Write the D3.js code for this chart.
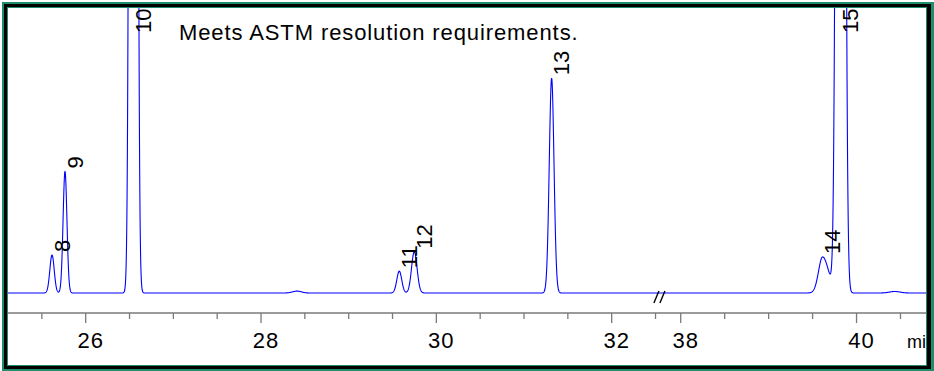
<!DOCTYPE html>
<html>
<head>
<meta charset="utf-8">
<script src="https://cdn.jsdelivr.net/npm/d3@7"></script>
<style>
  html, body { margin: 0; padding: 0; background: #fff; }
  svg { display: block; font-family: Arial, "Liberation Sans", sans-serif; }
</style>
</head>
<body>
<svg id="chart" width="934" height="371"></svg>
<script>
// ---------------- DATA ----------------
const peakLabels   = ["8", "9", "10", "11", "12", "13", "14", "15", null, null];
const peakTimes    = [25.616, 25.764, 26.545, 29.577, 29.748, 31.315, 39.614, 39.820, 28.41, 40.435]; // min
const peakHeights  = [40, 128, 5230, 23, 43.5, 226, 38, 3337, 2, 1.6];   // detector units
const peakSigmaL   = [0.025, 0.022, 0.026, 0.028, 0.031, 0.027, 0.046, 0.032, 0.05, 0.06]; // min
const peakSigmaR   = [0.025, 0.022, 0.026, 0.028, 0.032, 0.027, 0.068, 0.031, 0.05, 0.06]; // min

const segments     = [[25.05, 32.55], [37.77, 40.85]];     // broken time axis
const majorTicks   = [26, 28, 30, 32, 38, 40];
const majorLabels  = ["26", "28", "30", "32", "38", "40"];
const minorTicks   = [25.5, 26.5, 27, 27.5, 28.5, 29, 29.5, 30.5, 31, 31.5, 32.5, 38.5, 39, 39.5, 40.5];
const axisUnit     = "min";
const noteText     = "Meets ASTM resolution requirements.";

// ---------------- LAYOUT ----------------
const svg = d3.select("#chart");
const plot = {left: 8, right: 926, top: 8, bottom: 365};
const axisY = 313;

const x = d3.scaleLinear()
  .domain([25, 32.55, 37.77, 40.79])
  .range([-1.97, 659.9, 660.5, 926]);
const y = d3.scaleLinear().domain([0, 300]).range([293, 8]);

// frame
svg.append("rect").attr("x", 2).attr("y", 2).attr("width", 932).attr("height", 369).attr("fill", "#1f8c6e");
svg.append("rect").attr("x", 4).attr("y", 4).attr("width", 927).attr("height", 365).attr("fill", "#000");
svg.append("rect").attr("x", 7).attr("y", 7).attr("width", 920).attr("height", 359).attr("fill", "#1f8c6e");
svg.append("rect").attr("x", 8).attr("y", 8).attr("width", 918).attr("height", 357).attr("fill", "#fff");

svg.append("clipPath").attr("id", "clip")
  .append("rect").attr("x", plot.left).attr("y", plot.top)
  .attr("width", plot.right - plot.left).attr("height", plot.bottom - plot.top);

const g = svg.append("g").attr("clip-path", "url(#clip)");

// signal model built from peak table
function signal(t) {
  let s = 0;
  for (let i = 0; i < peakTimes.length; i++) {
    const d = t - peakTimes[i];
    const sg = d < 0 ? peakSigmaL[i] : peakSigmaR[i];
    s += peakHeights[i] * Math.exp(-(d * d) / (2 * sg * sg));
  }
  return s;
}

const pts = [];
segments.forEach(([a, b]) => {
  for (let t = a; t <= b + 1e-9; t += 0.002) pts.push([t, signal(t)]);
});

const line = d3.line().x(d => x(d[0])).y(d => y(d[1]));
g.append("path").datum(pts)
  .attr("d", line)
  .attr("fill", "none")
  .attr("stroke", "#0000ff")
  .attr("stroke-width", 1.1)
  .attr("stroke-linejoin", "round");

// axis line & ticks
g.append("line").attr("x1", plot.left).attr("x2", plot.right)
  .attr("y1", axisY).attr("y2", axisY).attr("stroke", "#7a7a7a").attr("stroke-width", 1.3);

g.selectAll(".major").data(majorTicks).enter().append("line")
  .attr("x1", d => x(d)).attr("x2", d => x(d))
  .attr("y1", axisY).attr("y2", axisY + 10)
  .attr("stroke", "#7a7a7a").attr("stroke-width", 1.3);

g.selectAll(".minor").data(minorTicks).enter().append("line")
  .attr("x1", d => x(d)).attr("x2", d => x(d))
  .attr("y1", axisY).attr("y2", axisY + 6)
  .attr("stroke", "#7a7a7a").attr("stroke-width", 1.3);

g.selectAll(".tlabel").data(majorTicks).enter().append("text")
  .attr("x", d => x(d) + 5).attr("y", 347.5)
  .attr("text-anchor", "middle")
  .attr("font-size", 22)
  .attr("letter-spacing", 1)
  .attr("fill", "#000")
  .text((d, i) => majorLabels[i]);

g.append("text").attr("x", 907).attr("y", 347.5)
  .attr("font-size", 18).attr("fill", "#000").text(axisUnit);

// axis break marks "//"
const bx = x(32.55) - 3;
[0, 6].forEach(o => {
  g.append("line")
    .attr("x1", bx + o - 3).attr("y1", y(0) + 10)
    .attr("x2", bx + o + 2).attr("y2", y(0) - 2)
    .attr("stroke", "#000").attr("stroke-width", 1.4);
});

// peak labels
peakTimes.forEach((t, i) => {
  if (!peakLabels[i]) return;
  const apex = signal(t);
  const py = Math.max(y(apex) - 3, 33);
  const px = x(t) + 17.5;
  g.append("text")
    .attr("transform", `translate(${px},${py}) rotate(-90)`)
    .attr("font-size", 22)
    .attr("fill", "#000")
    .text(peakLabels[i]);
});

// note
g.append("text").attr("x", 179).attr("y", 40)
  .attr("font-size", 22)
  .attr("letter-spacing", 0.9)
  .attr("fill", "#000")
  .text(noteText);
</script>
</body>
</html>
